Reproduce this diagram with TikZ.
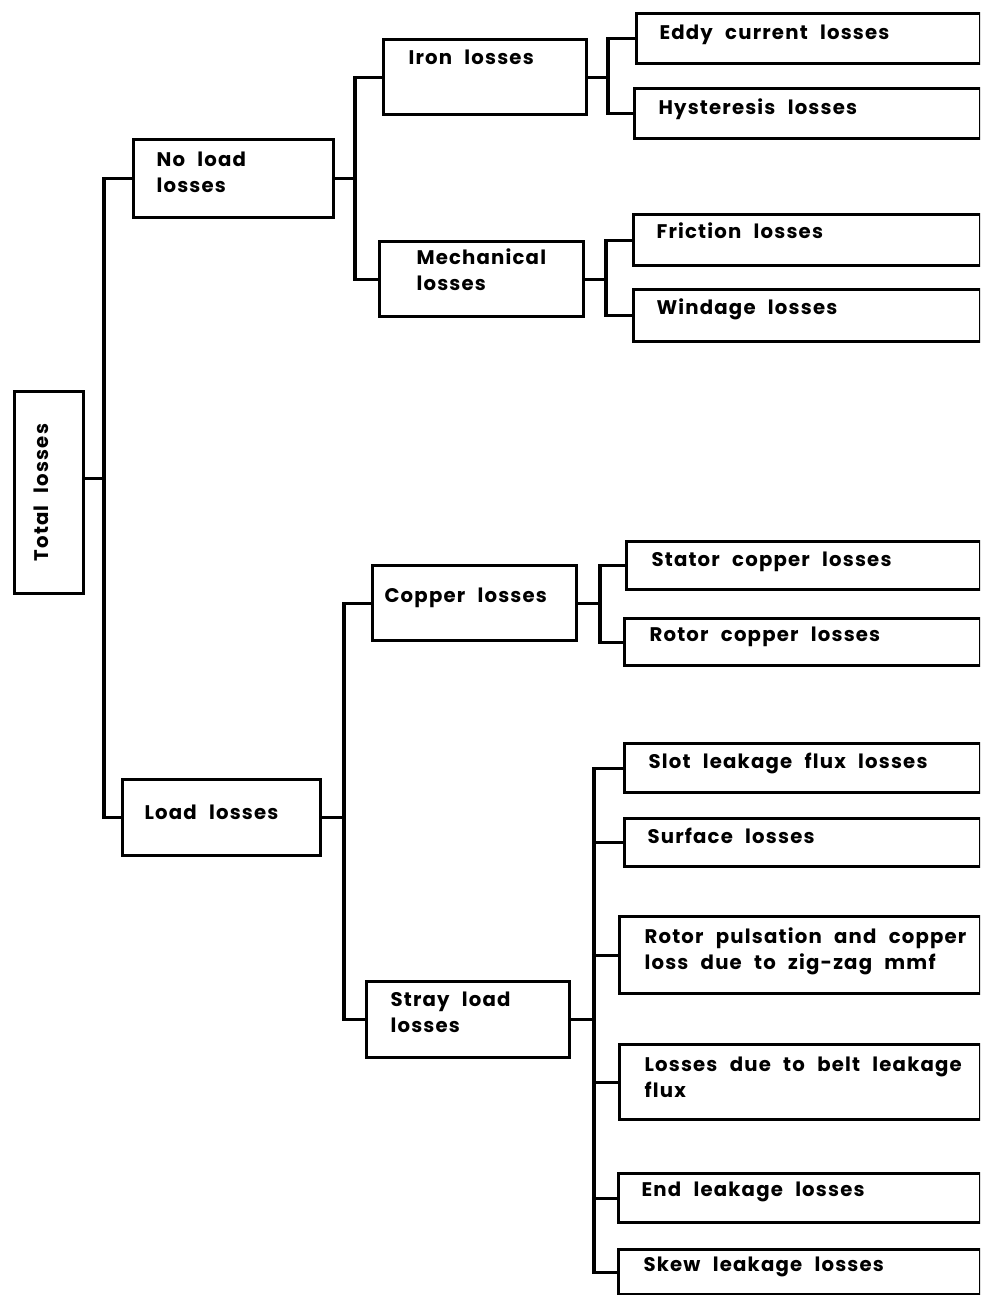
\documentclass[tikz,border=0pt]{standalone}
\usepackage{fontspec}
\newfontfamily\boxfont{Poppins}[LetterSpace=6, WordSpace=2.3]

% boxes and wires of the loss tree
\tikzset{
  box/.style={draw, line width=2.2pt, anchor=north west, inner sep=0pt,
              font=\boxfont\bfseries\fontsize{14pt}{18.5pt}\selectfont},
  wire/.style={line width=2.2pt},
}
% #1 left padding, #2 full box width, #3 lines of text
\newcommand{\inbox}[3]{\hspace*{#1}\makebox[\dimexpr#2-#1\relax][l]{%
  \begin{tabular}[t]{@{}l@{}}#3\end{tabular}}}

\begin{document}
\begin{tikzpicture}[x=0.025cm, y=-0.025cm]
  \useasboundingbox (0,0) rectangle (980,1295);
  \clip (0,0) rectangle (980,1295);

  % spine positions
  \coordinate (s0) at (104,0);
  \coordinate (s1) at (355,0);
  \coordinate (s2) at (608,0);
  \coordinate (s3) at (606,0);
  \coordinate (s4) at (344,0);
  \coordinate (s5) at (600,0);
  \coordinate (s6) at (594,0);

  % Total
  \node[box, minimum width=1.725cm, minimum height=5.05cm] (total) at (13,390)
        {\rotatebox{90}{\raisebox{0.2cm}[\height][\depth]{Total losses}}};

  % No load branch
  \node[box, text height=0.675cm, text depth=1.275cm] (noload) at (132,138)
        {\inbox{0.575cm}{5cm}{No load\\losses}};
  \node[box, text height=0.625cm, text depth=1.25cm] (iron) at (382,38)
        {\inbox{0.625cm}{5.075cm}{Iron losses}};
  \node[box, text height=0.575cm, text depth=1.3cm] (mech) at (378,240)
        {\inbox{0.925cm}{5.1cm}{Mechanical\\losses}};
  \node[box, text height=0.65cm, text depth=0.6cm] (eddy) at (635,12)
        {\inbox{0.575cm}{8.6cm}{Eddy current losses}};
  \node[box, text height=0.65cm, text depth=0.6cm] (hyst) at (633,87)
        {\inbox{0.6cm}{8.65cm}{Hysteresis losses}};
  \node[box, text height=0.6cm, text depth=0.675cm] (friction) at (632,213)
        {\inbox{0.575cm}{8.675cm}{Friction losses}};
  \node[box, text height=0.625cm, text depth=0.675cm] (windage) at (632,288)
        {\inbox{0.575cm}{8.675cm}{Windage losses}};

  % Load branch
  \node[box, text height=1cm, text depth=0.9cm] (load) at (121,778)
        {\inbox{0.55cm}{4.95cm}{Load losses}};
  \node[box, text height=0.925cm, text depth=0.95cm] (copper) at (371,564)
        {\inbox{0.3cm}{5.1cm}{Copper losses}};
  \node[box, text height=0.625cm, text depth=1.275cm] (stray) at (365,980)
        {\inbox{0.6cm}{5.075cm}{Stray load\\losses}};
  \node[box, text height=0.625cm, text depth=0.575cm] (stator) at (625,540)
        {\inbox{0.625cm}{8.85cm}{Stator copper losses}};
  \node[box, text height=0.575cm, text depth=0.6cm] (rotorcu) at (623,617)
        {\inbox{0.625cm}{8.9cm}{Rotor copper losses}};
  \node[box, text height=0.625cm, text depth=0.6cm] (slot) at (623,742)
        {\inbox{0.6cm}{8.9cm}{Slot leakage flux losses}};
  \node[box, text height=0.625cm, text depth=0.575cm] (surface) at (623,817)
        {\inbox{0.575cm}{8.9cm}{Surface losses}};
  \node[box, text height=0.675cm, text depth=1.25cm] (pulse) at (618,915)
        {\inbox{0.625cm}{9.025cm}{Rotor pulsation and copper\\loss due to zig-zag mmf}};
  \node[box, text height=0.675cm, text depth=1.2cm] (belt) at (618,1043)
        {\inbox{0.625cm}{9.025cm}{Losses due to belt leakage\\flux}};
  \node[box, text height=0.575cm, text depth=0.65cm] (endleak) at (617,1172)
        {\inbox{0.575cm}{9.05cm}{End leakage losses}};
  \node[box, text height=0.55cm, text depth=0.575cm] (skew) at (617,1248)
        {\inbox{0.625cm}{9.05cm}{Skew leakage losses}};

  % connectors
  \coordinate (t0) at ([yshift=0.35cm]total.east);
  \draw[wire] (t0) -- (t0 -| s0);
  \draw[wire] (noload.west) -- (noload.west -| s0) -- (load.west -| s0) -- (load.west);

  \draw[wire] (noload.east) -- (noload.east -| s1);
  \draw[wire] (iron.west) -- (iron.west -| s1) -- (mech.west -| s1) -- (mech.west);
  \draw[wire] (iron.east) -- (iron.east -| s2);
  \draw[wire] (eddy.west) -- (eddy.west -| s2) -- (hyst.west -| s2) -- (hyst.west);
  \draw[wire] (mech.east) -- (mech.east -| s3);
  \draw[wire] (friction.west) -- (friction.west -| s3) -- (windage.west -| s3) -- (windage.west);

  \draw[wire] (load.east) -- (load.east -| s4);
  \draw[wire] (copper.west) -- (copper.west -| s4) -- (stray.west -| s4) -- (stray.west);
  \draw[wire] (copper.east) -- (copper.east -| s5);
  \draw[wire] (stator.west) -- (stator.west -| s5) -- (rotorcu.west -| s5) -- (rotorcu.west);
  \draw[wire] (stray.east) -- (stray.east -| s6);
  \draw[wire] (slot.west) -- (slot.west -| s6) -- (skew.west -| s6) -- (skew.west);
  \foreach \n in {surface,pulse,belt,endleak}
    \draw[wire] (\n.west) -- (\n.west -| s6);
\end{tikzpicture}
\end{document}
